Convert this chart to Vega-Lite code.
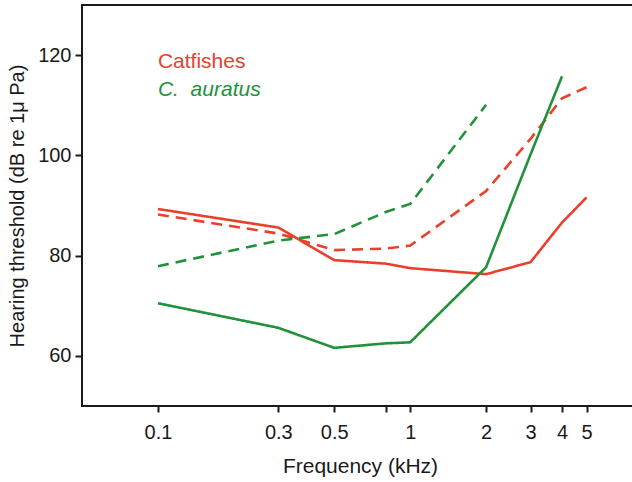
{
  "$schema": "https://vega.github.io/schema/vega-lite/v6.json",
  "width": 556,
  "height": 401,
  "autosize": {"type": "none"},
  "padding": {"left": 82, "top": 5, "right": 0, "bottom": 76},
  "background": "white",
  "config": {
    "font": "Liberation Sans",
    "view": {"stroke": "#1a1a1a", "strokeWidth": 2},
    "axis": {
      "grid": false,
      "domain": false,
      "tickColor": "#1a1a1a",
      "tickWidth": 2,
      "labelColor": "#1a1a1a",
      "titleColor": "#1a1a1a",
      "labelFont": "Liberation Sans",
      "titleFont": "Liberation Sans",
      "labelFontSize": 20,
      "titleFontSize": 20,
      "titleFontWeight": "normal"
    }
  },
  "datasets": {
    "curves": [
      {"species": "Catfishes", "style": "solid", "freq": 0.1, "db": 89.3},
      {"species": "Catfishes", "style": "solid", "freq": 0.3, "db": 85.6},
      {"species": "Catfishes", "style": "solid", "freq": 0.5, "db": 79.1},
      {"species": "Catfishes", "style": "solid", "freq": 0.8, "db": 78.4},
      {"species": "Catfishes", "style": "solid", "freq": 1, "db": 77.5},
      {"species": "Catfishes", "style": "solid", "freq": 2, "db": 76.3},
      {"species": "Catfishes", "style": "solid", "freq": 3, "db": 78.7},
      {"species": "Catfishes", "style": "solid", "freq": 4, "db": 86.6},
      {"species": "Catfishes", "style": "solid", "freq": 5, "db": 91.6},
      {"species": "Catfishes", "style": "dashed", "freq": 0.1, "db": 88.2},
      {"species": "Catfishes", "style": "dashed", "freq": 0.3, "db": 84.4},
      {"species": "Catfishes", "style": "dashed", "freq": 0.5, "db": 81.1},
      {"species": "Catfishes", "style": "dashed", "freq": 0.8, "db": 81.4},
      {"species": "Catfishes", "style": "dashed", "freq": 1, "db": 82.0},
      {"species": "Catfishes", "style": "dashed", "freq": 2, "db": 92.9},
      {"species": "Catfishes", "style": "dashed", "freq": 3, "db": 103.3},
      {"species": "Catfishes", "style": "dashed", "freq": 4, "db": 111.4},
      {"species": "Catfishes", "style": "dashed", "freq": 5, "db": 113.6},
      {"species": "C. auratus", "style": "solid", "freq": 0.1, "db": 70.5},
      {"species": "C. auratus", "style": "solid", "freq": 0.3, "db": 65.6},
      {"species": "C. auratus", "style": "solid", "freq": 0.5, "db": 61.6},
      {"species": "C. auratus", "style": "solid", "freq": 0.8, "db": 62.5},
      {"species": "C. auratus", "style": "solid", "freq": 1, "db": 62.7},
      {"species": "C. auratus", "style": "solid", "freq": 2, "db": 77.7},
      {"species": "C. auratus", "style": "solid", "freq": 3, "db": 100.2},
      {"species": "C. auratus", "style": "solid", "freq": 4, "db": 115.8},
      {"species": "C. auratus", "style": "dashed", "freq": 0.1, "db": 77.9},
      {"species": "C. auratus", "style": "dashed", "freq": 0.3, "db": 83.0},
      {"species": "C. auratus", "style": "dashed", "freq": 0.5, "db": 84.3},
      {"species": "C. auratus", "style": "dashed", "freq": 0.8, "db": 88.7},
      {"species": "C. auratus", "style": "dashed", "freq": 1, "db": 90.3},
      {"species": "C. auratus", "style": "dashed", "freq": 2, "db": 110.1}
    ],
    "labels": [
      {"species": "Catfishes", "label": "Catfishes", "freq": 0.1, "db": 117.5, "italic": "no"},
      {"species": "C. auratus", "label": "C.\u00a0 auratus", "freq": 0.1, "db": 111.9, "italic": "yes"}
    ]
  },
  "layer": [
    {
      "data": {"name": "curves"},
      "mark": {"type": "line", "strokeWidth": 2.6, "clip": true},
      "encoding": {
        "x": {
          "field": "freq",
          "type": "quantitative",
          "scale": {"type": "log", "domain": [0.05, 8], "nice": false},
          "axis": {
            "title": "Frequency (kHz)",
            "titleFontSize": 21,
            "values": [0.1, 0.3, 0.5, 0.8, 1, 2, 3, 4, 5],
            "labelExpr": "datum.value == 0.8 ? '' : format(datum.value, '~g')",
            "tickSize": 6,
            "labelPadding": 10,
            "titlePadding": 13
          }
        },
        "y": {
          "field": "db",
          "type": "quantitative",
          "scale": {"domain": [50, 130], "nice": false, "zero": false},
          "axis": {
            "title": "Hearing threshold (dB re 1\u03bc Pa)",
            "values": [60, 80, 100, 120],
            "tickSize": 7,
            "labelPadding": 4,
            "titlePadding": 10
          }
        },
        "color": {
          "field": "species",
          "type": "nominal",
          "scale": {"domain": ["Catfishes", "C. auratus"], "range": ["#e8402d", "#22923a"]},
          "legend": null
        },
        "strokeDash": {
          "field": "style",
          "type": "nominal",
          "scale": {"domain": ["solid", "dashed"], "range": [[1, 0], [11, 7]]},
          "legend": null
        }
      }
    },
    {
      "data": {"name": "labels"},
      "transform": [{"filter": "datum.italic == 'no'"}],
      "mark": {"type": "text", "align": "left", "baseline": "alphabetic", "fontSize": 21, "font": "Liberation Sans"},
      "encoding": {
        "x": {"field": "freq", "type": "quantitative"},
        "y": {"field": "db", "type": "quantitative"},
        "text": {"field": "label"},
        "color": {"field": "species", "type": "nominal", "legend": null}
      }
    },
    {
      "data": {"name": "labels"},
      "transform": [{"filter": "datum.italic == 'yes'"}],
      "mark": {"type": "text", "align": "left", "baseline": "alphabetic", "fontSize": 21, "fontStyle": "italic", "font": "Liberation Sans"},
      "encoding": {
        "x": {"field": "freq", "type": "quantitative"},
        "y": {"field": "db", "type": "quantitative"},
        "text": {"field": "label"},
        "color": {"field": "species", "type": "nominal", "legend": null}
      }
    }
  ]
}
